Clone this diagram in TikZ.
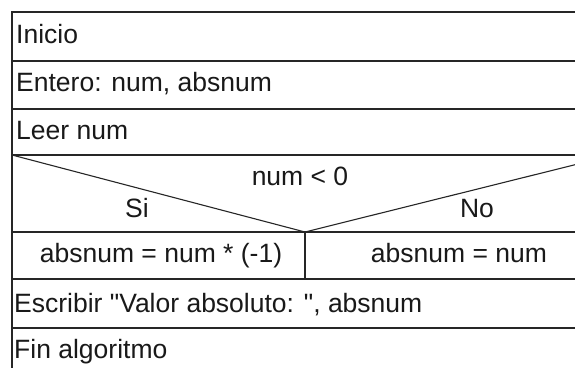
\documentclass[tikz,border=0pt]{standalone}
\usepackage{fontspec}
\setmainfont{Liberation Sans}
\newfontfamily\plainfont{Liberation Sans}
\begin{document}
\begin{tikzpicture}[x=1pt,y=-1pt,
  cell/.style={draw=black!85,line width=1.4pt,anchor=north west,inner sep=0pt,outer sep=0pt},
  lbl/.style={inner sep=0pt,font=\plainfont\fontsize{26.5}{30}\selectfont,text=black!90},
  diag/.style={draw=black!85,line width=1.1pt}]
\clip (0,0) rectangle (575,367);
\fill[white] (0,0) rectangle (575,367);
% rows
\node[cell,minimum width=602pt,minimum height=49pt] (r1) at (12,12) {};
\node[cell,minimum width=602pt,minimum height=48pt] (r2) at (12,61) {};
\node[cell,minimum width=602pt,minimum height=46pt] (r3) at (12,109) {};
\node[cell,minimum width=602pt,minimum height=77pt] (cond) at (12,155) {};
\node[cell,minimum width=293pt,minimum height=47pt] (yes) at (12,232) {};
\node[cell,minimum width=309pt,minimum height=47pt] (no) at (305,232) {};
\node[cell,minimum width=602pt,minimum height=49pt] (r6) at (12,279) {};
\node[cell,minimum width=602pt,minimum height=80pt] (r7) at (12,328) {};
% decision diagonals
\coordinate (v) at (305,232);
\draw[diag] (cond.north west) -- (v) -- (cond.north east);
% labels
\node[lbl,anchor=base west] (t1) at (16,43) {Inicio};
\node[lbl,anchor=base west] (t2) at (16,91) {Entero: num, absnum};
\node[lbl,anchor=base west] (t3) at (16,139) {Leer num};
\node[lbl,anchor=base] (tc) at (300,185) {num < 0};
\node[lbl,anchor=base] (ts) at (137,217) {Si};
\node[lbl,anchor=base] (tn) at (477,217) {No};
\node[lbl,anchor=base] (ty) at (161,262) {absnum = num * (-1)};
\node[lbl,anchor=base] (tno) at (459,262) {absnum = num};
\node[lbl,anchor=base west] (t6) at (14,312) {Escribir "Valor absoluto: ", absnum};
\node[lbl,anchor=base west] (t7) at (14,358) {Fin algoritmo};
\end{tikzpicture}
\end{document}
